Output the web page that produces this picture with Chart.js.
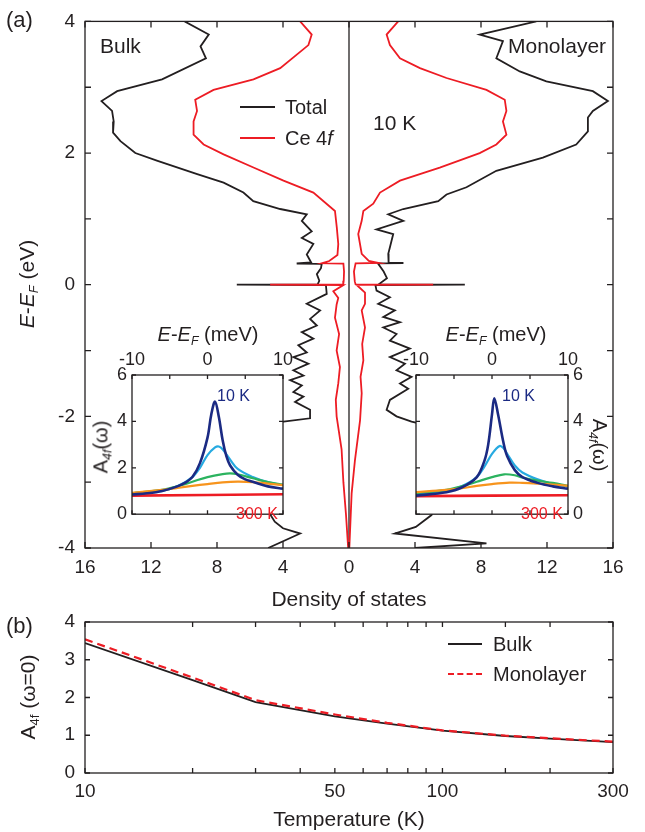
<!DOCTYPE html>
<html>
<head>
<meta charset="utf-8">
<title>Ce 4f density of states</title>
<script src="https://cdn.jsdelivr.net/npm/chart.js@4.4.0/dist/chart.umd.min.js"></script>
<style>
    body { margin: 0; background: #fff; }
    #page {
        position: relative;
        width: 645px;
        height: 832px;
        overflow: hidden;
        font-family: "Liberation Sans", Arial, sans-serif;
        color: #231f20;
    }
    #page canvas { position: absolute; }
    .t { position: absolute; white-space: nowrap; line-height: 1; font-size: 21px; }
    .c { transform: translate(-50%, -50%); }
    .l { transform: translate(0, -50%); }
    .rl { transform: translate(-50%, -50%) rotate(-90deg); }
    .rr { transform: translate(-50%, -50%) rotate(90deg); }
    .t sub { font-size: 0.62em; vertical-align: -0.3em; }
    .key { position: absolute; height: 0; border-top: 2px solid #231f20; }
</style>
</head>
<body>
<div id="page">
    <canvas id="dosChart" width="645" height="615" style="left:0;top:0"></canvas>
    <canvas id="insetBulk" width="215" height="205" style="left:90px;top:325px"></canvas>
    <canvas id="insetMono" width="215" height="205" style="left:395px;top:325px"></canvas>
    <canvas id="tempChart" width="645" height="232" style="left:0;top:600px"></canvas>

    <!-- panel (a) text -->
    <div class="t l" style="left:6px;top:20px;font-size:22px">(a)</div>
    <div class="t rl" style="left:28px;top:284px"><i>E</i>-<i>E</i><sub><i>F</i></sub> (eV)</div>
    <div class="t c" style="left:349px;top:598px">Density of states</div>
    <div class="t l" style="left:100px;top:45px">Bulk</div>
    <div class="t l" style="left:508px;top:45px">Monolayer</div>
    <div class="t l" style="left:373px;top:122px">10 K</div>
    <div class="key" style="left:240px;top:106px;width:35px"></div>
    <div class="t l" style="left:285px;top:107px;font-size:20px">Total</div>
    <div class="key" style="left:240px;top:137px;width:35px;border-color:#ed1c24"></div>
    <div class="t l" style="left:285px;top:138px;font-size:20px">Ce 4<i>f</i></div>

    <!-- insets text -->
    <div class="t c" style="left:208px;top:336px;font-size:20px"><i>E</i>-<i>E</i><sub><i>F</i></sub> (meV)</div>
    <div class="t rl" style="left:102px;top:447px;font-size:20px">A<sub><i>4f</i></sub>(ω)</div>
    <div class="t l" style="left:217px;top:396px;font-size:16px;color:#1b2a83">10 K</div>
    <div class="t l" style="left:236px;top:514px;font-size:16px;color:#ed1c24">300 K</div>
    <div class="t c" style="left:496px;top:336px;font-size:20px"><i>E</i>-<i>E</i><sub><i>F</i></sub> (meV)</div>
    <div class="t rr" style="left:598px;top:445px;font-size:20px">A<sub><i>4f</i></sub>(ω)</div>
    <div class="t l" style="left:502px;top:396px;font-size:16px;color:#1b2a83">10 K</div>
    <div class="t l" style="left:521px;top:514px;font-size:16px;color:#ed1c24">300 K</div>

    <!-- panel (b) text -->
    <div class="t l" style="left:6px;top:626px;font-size:22px">(b)</div>
    <div class="t rl" style="left:29px;top:697px">A<sub>4f</sub> (ω=0)</div>
    <div class="t c" style="left:349px;top:818px">Temperature (K)</div>
    <div class="key" style="left:448px;top:643px;width:34px"></div>
    <div class="t l" style="left:493px;top:644px;font-size:20px">Bulk</div>
    <div class="key" style="left:448px;top:673px;width:34px;border-top:2px dashed #ed1c24"></div>
    <div class="t l" style="left:493px;top:674px;font-size:20px">Monolayer</div>
</div>

<script>
// ---- Panel (a): density of states (energy in eV, DOS values) ----
const bulkTotalE = [4.0, 3.80, 3.62, 3.44, 3.12, 2.94, 2.79, 2.64, 2.48, 2.31, 2.18, 2.0, 1.88, 1.68, 1.55, 1.40, 1.27, 1.15, 1.07, 0.97, 0.81, 0.71, 0.62, 0.46, 0.34, 0.322, 0.318, 0.25, 0.16, 0.06, 0.005, 0.0, -0.005, -0.14, -0.29, -0.39, -0.52, -0.62, -0.72, -0.82, -0.92, -1.03, -1.10, -1.20, -1.30, -1.38, -1.45, -1.53, -1.63, -1.70, -1.78, -1.90, -2.03, -2.08, -2.10, -2.4, -2.8, -3.2, -3.6, -3.70, -3.78, -4.0];
const bulkTotalDos = [9.96, 8.5, 9.0, 8.67, 11.33, 14.05, 15.0, 14.36, 14.26, 14.3, 13.85, 12.95, 11.6, 9.2, 7.6, 6.4, 5.8, 4.17, 2.56, 2.86, 2.26, 2.86, 2.16, 2.56, 2.3, 3.17, 1.65, 1.7, 1.95, 1.8, 1.9, 6.8, 1.4, 1.35, 2.56, 1.75, 2.36, 1.95, 2.86, 2.16, 3.07, 2.56, 3.37, 2.46, 3.37, 2.76, 3.57, 2.86, 3.37, 2.76, 3.27, 2.36, 2.36, 3.97, 4.6, 5.5, 6.0, 5.5, 4.5, 4.0, 2.96, 4.9];

const bulkCeE = [4.0, 3.80, 3.64, 3.29, 3.12, 2.96, 2.81, 2.64, 2.48, 2.28, 2.13, 1.98, 1.78, 1.58, 1.40, 1.12, 0.87, 0.62, 0.45, 0.36, 0.325, 0.32, 0.2, 0.06, 0.005, 0.0, -0.005, -0.1, -0.2, -0.3, -0.5, -0.75, -1.0, -1.25, -1.5, -1.75, -2.0, -2.5, -3.0, -3.5, -4.0];
const bulkCeDos = [2.96, 2.26, 2.46, 4.17, 5.79, 8.21, 9.32, 9.21, 9.42, 9.42, 8.81, 7.6, 5.79, 3.97, 2.16, 0.85, 0.74, 0.65, 0.7, 1.2, 1.65, 0.34, 0.3, 0.32, 0.35, 4.78, 0.34, 0.95, 0.65, 0.75, 0.85, 0.6, 0.75, 0.55, 0.65, 0.8, 0.75, 0.45, 0.34, 0.18, 0.05];

const monoTotalE = [4.0, 3.80, 3.70, 3.44, 3.24, 3.09, 2.94, 2.79, 2.64, 2.54, 2.33, 2.13, 1.93, 1.73, 1.48, 1.37, 1.27, 1.15, 1.07, 0.97, 0.84, 0.77, 0.57, 0.47, 0.335, 0.33, 0.325, 0.2, 0.1, 0.005, 0.0, -0.005, -0.09, -0.19, -0.29, -0.39, -0.49, -0.57, -0.65, -0.75, -0.85, -0.97, -1.10, -1.20, -1.30, -1.40, -1.50, -1.58, -1.75, -1.90, -2.0, -2.08, -2.12, -2.5, -3.0, -3.5, -3.68, -3.78, -3.93, -4.0];
const monoTotalDos = [11.35, 7.92, 9.33, 8.93, 10.35, 11.96, 14.78, 15.69, 14.78, 14.48, 14.48, 13.77, 11.75, 8.93, 7.12, 5.91, 5.41, 3.29, 2.38, 3.29, 1.67, 2.68, 2.48, 2.38, 2.4, 3.3, 1.75, 2.1, 2.3, 1.8, 7.02, 1.6, 1.67, 2.48, 1.77, 2.78, 2.08, 3.09, 2.08, 2.88, 2.48, 3.69, 2.48, 3.39, 2.88, 3.79, 3.09, 3.59, 2.48, 2.28, 2.88, 3.79, 4.5, 5.5, 6.0, 5.0, 4.05, 2.78, 8.33, 4.0];

const monoCeE = [4.0, 3.8, 3.64, 3.44, 3.29, 3.14, 2.96, 2.81, 2.64, 2.48, 2.28, 2.13, 2.0, 1.78, 1.58, 1.40, 1.23, 1.12, 0.97, 0.77, 0.47, 0.36, 0.33, 0.325, 0.2, 0.05, 0.005, 0.0, -0.005, -0.12, -0.29, -0.39, -0.65, -0.9, -1.15, -1.4, -1.65, -2.06, -2.67, -3.17, -4.0];
const monoCeDos = [2.98, 2.28, 2.48, 3.09, 4.3, 5.91, 8.33, 9.44, 9.54, 9.33, 9.54, 8.93, 7.92, 5.5, 3.09, 1.88, 1.47, 0.87, 0.77, 0.56, 0.77, 1.2, 1.78, 0.4, 0.3, 0.35, 0.4, 5.1, 0.47, 0.97, 0.97, 0.77, 0.97, 0.8, 0.87, 0.7, 0.77, 0.67, 0.36, 0.16, 0.02];

// ---- Insets: A_4f(omega) vs E-E_F (meV), from 10 K (navy) to 300 K (red) ----
const insetColors = ['#1b2a83', '#27aae1', '#2bb35f', '#f7941d', '#ed1c24'];

const bulkNavyX = [-10, -8, -6, -4, -3, -2, -1, 0, 0.5, 1.0, 1.5, 2, 2.5, 3, 4, 5, 6, 8, 10];
const bulkNavyY = [0.85, 0.9, 1.0, 1.2, 1.35, 1.6, 2.2, 3.3, 4.3, 4.85, 4.2, 3.2, 2.5, 2.1, 1.7, 1.5, 1.4, 1.2, 1.1];
const bulkBlueX = [-10, -6, -4, -2, -1, 0, 1, 1.5, 2, 3, 4, 6, 8, 10];
const bulkBlueY = [0.85, 1.0, 1.2, 1.6, 2.0, 2.55, 2.88, 2.92, 2.8, 2.35, 1.95, 1.6, 1.38, 1.25];
const bulkGreenX = [-10, -6, -4, -2, 0, 2, 3, 4, 6, 8, 10];
const bulkGreenY = [0.9, 1.05, 1.2, 1.4, 1.6, 1.73, 1.76, 1.72, 1.55, 1.38, 1.28];
const bulkOrangeX = [-10, -6, -4, -2, 0, 2, 4, 6, 8, 10];
const bulkOrangeY = [0.92, 1.05, 1.13, 1.22, 1.3, 1.37, 1.4, 1.38, 1.32, 1.25];
const bulkRedX = [-10, 10];
const bulkRedY = [0.8, 0.86];

const monoNavyX = [-10, -6, -4, -2, -1, -0.5, 0, 0.3, 0.8, 1.5, 2, 3, 4, 6, 8, 10];
const monoNavyY = [0.8, 0.95, 1.15, 1.6, 2.3, 3.0, 4.3, 5.0, 4.3, 3.1, 2.5, 1.9, 1.6, 1.35, 1.2, 1.1];
const monoBlueX = [-10, -6, -4, -2, -1, 0, 1, 1.5, 2, 3, 4, 6, 8, 10];
const monoBlueY = [0.85, 1.0, 1.2, 1.6, 2.05, 2.6, 2.94, 2.85, 2.6, 2.1, 1.8, 1.5, 1.3, 1.2];
const monoGreenX = [-10, -6, -4, -2, 0, 1.6, 3, 4, 6, 8, 10];
const monoGreenY = [0.9, 1.05, 1.2, 1.4, 1.6, 1.72, 1.68, 1.58, 1.45, 1.35, 1.22];
const monoOrangeX = [-10, -6, -4, -2, 0, 2.3, 4, 6, 8, 10];
const monoOrangeY = [0.95, 1.05, 1.12, 1.22, 1.3, 1.36, 1.35, 1.32, 1.28, 1.22];
const monoRedX = [-10, 10];
const monoRedY = [0.78, 0.82];

// ---- Panel (b): A_4f(omega=0) vs temperature ----
const temperatures = [10, 20, 30, 50, 70, 100, 150, 200, 300];
const bulkA0 = [3.44, 2.46, 1.88, 1.5, 1.31, 1.12, 0.98, 0.91, 0.82];
const monoA0 = [3.54, 2.53, 1.93, 1.55, 1.33, 1.13, 0.99, 0.92, 0.83];

const ink = '#231f20';
const red = '#ed1c24';
const tickFont = { family: 'Liberation Sans', size: 19 };

// Helpers
function toPts(xs, ys) {
    return xs.map((x, i) => ({ x: x, y: ys[i] }));
}

function dosPts(energy, dos, sign) {
    return energy.map((e, i) => ({ x: sign * dos[i], y: e }));
}

function fixW(w) { return scale => { scale.width = w; }; }
function fixH(h) { return scale => { scale.height = h; }; }

// Frame with inward ticks on every side
const frameTicks = {
    id: 'frameTicks',
    beforeDraw(chart, args, opts) {
        if (!opts.whiteArea) return;
        const a = chart.chartArea;
        chart.ctx.save();
        chart.ctx.fillStyle = '#fff';
        chart.ctx.fillRect(a.left, a.top, a.right - a.left, a.bottom - a.top);
        chart.ctx.restore();
    },
    afterDatasetsDraw(chart, args, opts) {
        const { ctx, chartArea: a } = chart;
        const xs = chart.scales.x;
        const ys = chart.scales.y;
        const len = opts.len || 5;
        ctx.save();
        ctx.strokeStyle = ink;
        ctx.lineWidth = 1.3;
        ctx.beginPath();
        xs.ticks.forEach(t => {
            const p = xs.getPixelForValue(t.value);
            ctx.moveTo(p, a.bottom); ctx.lineTo(p, a.bottom - len);
            ctx.moveTo(p, a.top); ctx.lineTo(p, a.top + len);
        });
        ys.ticks.forEach(t => {
            const p = ys.getPixelForValue(t.value);
            ctx.moveTo(a.left, p); ctx.lineTo(a.left + len, p);
            ctx.moveTo(a.right, p); ctx.lineTo(a.right - len, p);
        });
        ctx.stroke();
        ctx.strokeRect(a.left, a.top, a.right - a.left, a.bottom - a.top);
        ctx.restore();
    }
};

const baseOptions = {
    responsive: false,
    animation: false,
    events: [],
    elements: { point: { radius: 0 }, line: { tension: 0, borderWidth: 1.8 } }
};

function axisStyle(extra) {
    return Object.assign({
        grid: { display: false, drawTicks: false },
        border: { display: false }
    }, extra);
}

// Panel (a)
new Chart(document.getElementById('dosChart'), {
    type: 'line',
    data: {
        datasets: [
            { data: dosPts(bulkCeE, bulkCeDos, -1), borderColor: red, order: 0 },
            { data: dosPts(monoCeE, monoCeDos, 1), borderColor: red, order: 0 },
            { data: dosPts(bulkTotalE, bulkTotalDos, -1), borderColor: ink, order: 1 },
            { data: dosPts(monoTotalE, monoTotalDos, 1), borderColor: ink, order: 1 },
            { data: [{ x: 0, y: -4 }, { x: 0, y: 4 }], borderColor: ink, borderWidth: 1.3, order: 2 }
        ]
    },
    options: Object.assign({}, baseOptions, {
        layout: { padding: { left: 0, right: 32, top: 20, bottom: 0 } },
        plugins: { legend: { display: false }, tooltip: { enabled: false }, frameTicks: { len: 6 } },
        scales: {
            x: axisStyle({
                type: 'linear', min: -16, max: 16,
                ticks: { stepSize: 4, font: tickFont, color: ink, padding: 8, maxRotation: 0, autoSkip: false,
                         callback: v => String(Math.abs(v)) },
                afterFit: fixH(67)
            }),
            y: axisStyle({
                type: 'linear', min: -4, max: 4,
                ticks: { stepSize: 1, font: tickFont, color: ink, padding: 10, autoSkip: false,
                         callback: v => (v % 2 === 0 ? String(v) : '') },
                afterFit: fixW(85)
            })
        }
    }),
    plugins: [frameTicks]
});

// Insets
function insetChart(id, side, curves) {
    const widths = [2.6, 2.2, 2.2, 2.2, 2.6];
    new Chart(document.getElementById(id), {
        type: 'line',
        data: {
            datasets: curves.map((c, i) => ({
                data: toPts(c[0], c[1]),
                borderColor: insetColors[i],
                borderWidth: widths[i],
                tension: 0.35,
                order: i === 0 ? 0 : 5 - i
            }))
        },
        options: Object.assign({}, baseOptions, {
            layout: { padding: side === 'left'
                ? { left: 0, right: 22, top: 0, bottom: 5 }
                : { left: 21, right: 0, top: 0, bottom: 5 } },
            plugins: { legend: { display: false }, tooltip: { enabled: false }, frameTicks: { len: 4, whiteArea: true } },
            scales: {
                x: axisStyle({
                    type: 'linear', position: 'top', min: -10, max: 10,
                    ticks: { stepSize: 5, font: { family: 'Liberation Sans', size: 18 }, color: ink, padding: 4,
                             maxRotation: 0, autoSkip: false,
                             callback: v => (v % 10 === 0 ? String(v) : '') },
                    afterFit: fixH(50)
                }),
                y: axisStyle({
                    type: 'linear', position: side, min: 0, max: 6,
                    ticks: { stepSize: 2, font: { family: 'Liberation Sans', size: 18 }, color: ink, padding: 5 },
                    afterFit: fixW(42)
                })
            }
        }),
        plugins: [frameTicks]
    });
}

insetChart('insetBulk', 'left', [
    [bulkNavyX, bulkNavyY], [bulkBlueX, bulkBlueY], [bulkGreenX, bulkGreenY],
    [bulkOrangeX, bulkOrangeY], [bulkRedX, bulkRedY]
]);
insetChart('insetMono', 'right', [
    [monoNavyX, monoNavyY], [monoBlueX, monoBlueY], [monoGreenX, monoGreenY],
    [monoOrangeX, monoOrangeY], [monoRedX, monoRedY]
]);

// Panel (b)
new Chart(document.getElementById('tempChart'), {
    type: 'line',
    data: {
        datasets: [
            { data: toPts(temperatures, monoA0), borderColor: red, borderWidth: 2.2, borderDash: [8, 5], order: 0 },
            { data: toPts(temperatures, bulkA0), borderColor: ink, borderWidth: 1.8, order: 1 }
        ]
    },
    options: Object.assign({}, baseOptions, {
        layout: { padding: { left: 0, right: 32, top: 22, bottom: 0 } },
        plugins: { legend: { display: false }, tooltip: { enabled: false }, frameTicks: { len: 5 } },
        scales: {
            x: axisStyle({
                type: 'logarithmic', min: 10, max: 300,
                ticks: { font: tickFont, color: ink, padding: 7, maxRotation: 0, autoSkip: false,
                         callback: v => ([10, 50, 100, 300].includes(v) ? String(v) : '') },
                afterFit: fixH(59)
            }),
            y: axisStyle({
                type: 'linear', min: 0, max: 4,
                ticks: { stepSize: 1, font: tickFont, color: ink, padding: 10 },
                afterFit: fixW(85)
            })
        }
    }),
    plugins: [frameTicks]
});
</script>
</body>
</html>
